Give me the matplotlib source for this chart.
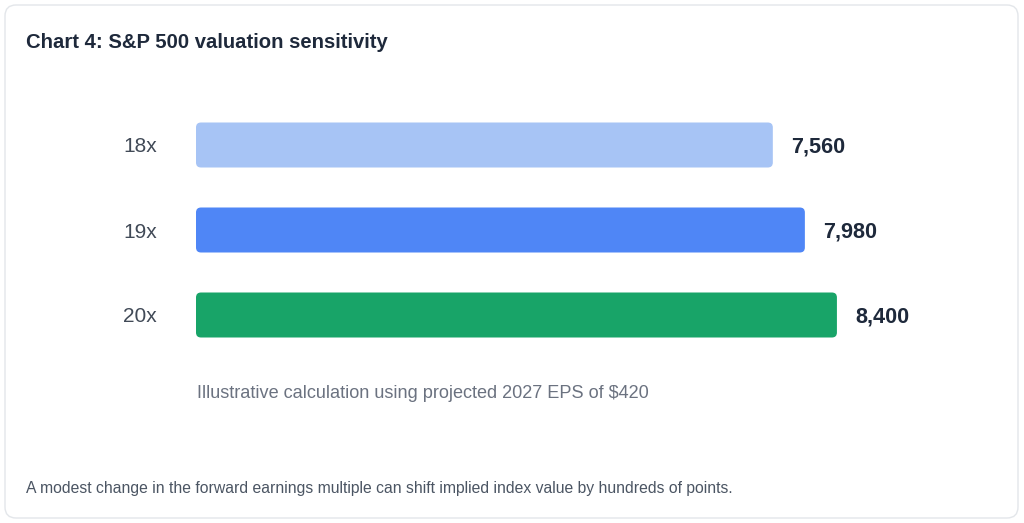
import matplotlib
matplotlib.use("Agg")
import matplotlib.pyplot as plt
from matplotlib.patches import FancyBboxPatch

categories = ["18x", "19x", "20x"]
values = [7560, 7980, 8400]
value_labels = ["7,560", "7,980", "8,400"]
colors = ["#a7c4f5", "#4f86f6", "#18a468"]
title = "Chart 4: S&P 500 valuation sensitivity"
note = "Illustrative calculation using projected 2027 EPS of $420"
footer = "A modest change in the forward earnings multiple can shift implied index value by hundreds of points."

plt.rcParams['font.family'] = ['Liberation Sans', 'DejaVu Sans']

W, H = 1024, 523
fig = plt.figure(figsize=(W / 100, H / 100), dpi=100)
fig.patch.set_facecolor("white")

# background / card axes in pixel coordinates
bg = fig.add_axes([0, 0, 1, 1])
bg.set_xlim(0, W)
bg.set_ylim(H, 0)
bg.axis("off")
card = FancyBboxPatch((5, 5), 1013, 513, boxstyle="round,pad=0,rounding_size=11",
                      facecolor="white", edgecolor="#e3e6ea", linewidth=1.0)
bg.add_patch(card)
bg.text(26, 43, title, fontsize=14.55, fontweight="bold", color="#1e293b",
        va="center", ha="left")
bg.text(197, 393.5, note, fontsize=13.1, color="#6b7280", va="center", ha="left")
bg.text(26, 488, footer, fontsize=11.38, color="#4b5563", va="center", ha="left")

# bar axes
left_px, right_px = 196, 959
top_px, bot_px = 102.5, 357.5
ax = fig.add_axes([left_px / W, 1 - bot_px / H, (right_px - left_px) / W, (bot_px - top_px) / H])
ax.set_xlim(0, 10000)
ax.set_ylim(2.5, -0.5)
ax.patch.set_alpha(0)
for s in ax.spines.values():
    s.set_visible(False)
ax.set_xticks([])

bar_h = 45 / 85
bars = ax.barh(range(len(values)), values, height=bar_h, color=colors)
x_per_px = 10000 / (right_px - left_px)
y_per_px = 3 / (bot_px - top_px)
r_px = 5
for b, c in zip(bars, colors):
    x0, y0, w, h = b.get_x(), b.get_y(), b.get_width(), b.get_height()
    b.set_visible(False)
    p = FancyBboxPatch((x0, y0), w, h,
                       boxstyle=f"round,pad=0,rounding_size={r_px * x_per_px}",
                       mutation_aspect=y_per_px / x_per_px,
                       facecolor=c, edgecolor="none")
    ax.add_patch(p)

ax.set_yticks(range(len(categories)))
ax.set_yticklabels(categories, fontsize=15, color="#414a57")
ax.tick_params(axis="y", length=0, pad=28)

for i, (v, lab) in enumerate(zip(values, value_labels)):
    ax.annotate(lab, (v, i), xytext=(13.5, -1.5), textcoords="offset points",
                fontsize=15.6, fontweight="bold", color="#1e293b",
                va="center", ha="left")

fig.savefig("out.png", dpi=100, facecolor="white")
